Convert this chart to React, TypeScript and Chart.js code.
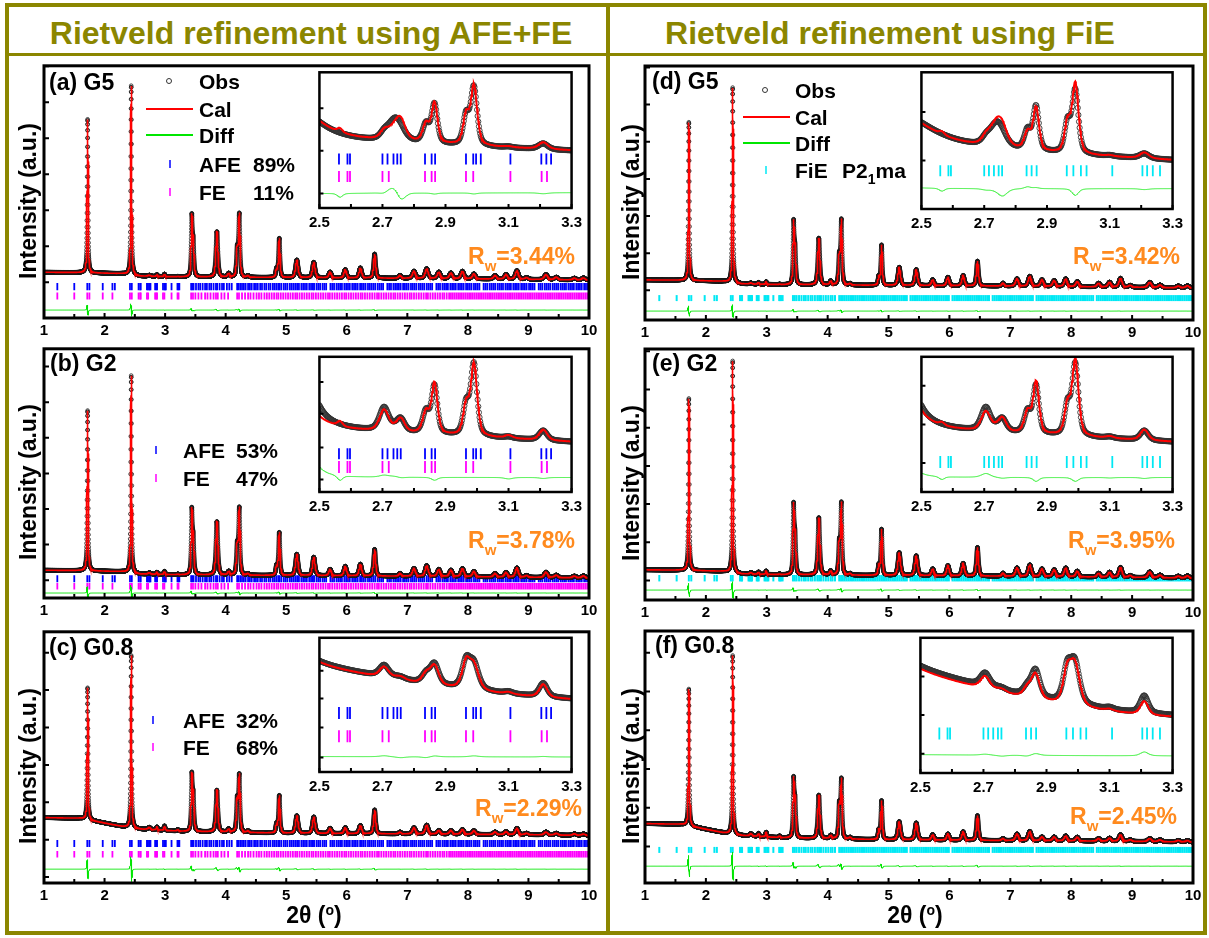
import React, { useEffect, useRef } from 'react';
import { Chart, registerables } from 'chart.js';
Chart.register(...registerables);

// ------------------------------------------------------------------ DATA
const X_TICKS = [1, 2, 3, 4, 5, 6, 7, 8, 9, 10];
const INSET_X_TICKS = [2.5, 2.7, 2.9, 3.1, 3.3];

// main reflections (2theta, deg) with profile widths (FWHM)
const peakPos = [1.72, 2.44, 2.74, 2.865, 2.99, 3.21, 3.44, 3.465, 3.855, 4.05, 4.19, 4.225, 4.37, 4.84, 4.885, 5.175, 5.455, 5.725, 5.975, 6.225, 6.46, 6.88, 7.11, 7.32, 7.52, 7.72, 7.91, 8.10, 8.45, 8.63, 8.81, 8.97, 9.29, 9.46, 9.76, 9.91];
const peakWidth = [0.02, 0.02, 0.05, 0.025, 0.025, 0.03, 0.025, 0.03, 0.04, 0.04, 0.03, 0.03, 0.04, 0.03, 0.03, 0.05, 0.05, 0.05, 0.05, 0.05, 0.04, 0.05, 0.06, 0.06, 0.06, 0.06, 0.06, 0.06, 0.06, 0.06, 0.06, 0.06, 0.07, 0.07, 0.07, 0.07];
const peakH_G5 = [4.26, 5.25, 0.03, 0.05, 0.07, 0.01, 1.57, 0.9, 1.26, 0.1, 0.75, 1.72, 0.04, 0.22, 1.08, 0.49, 0.43, 0.16, 0.23, 0.28, 0.67, 0.08, 0.2, 0.27, 0.18, 0.16, 0.21, 0.14, 0.1, 0.13, 0.24, 0.05, 0.14, 0.07, 0.05, 0.06];
const peakH_G2 = [4.5, 5.54, 0.04, 0.06, 0.09, 0.015, 1.7, 0.95, 1.5, 0.1, 0.8, 1.85, 0.04, 0.25, 1.2, 0.6, 0.52, 0.18, 0.27, 0.33, 0.75, 0.08, 0.22, 0.3, 0.2, 0.18, 0.23, 0.15, 0.1, 0.13, 0.26, 0.05, 0.15, 0.07, 0.05, 0.06];
const peakH_G08 = [3.53, 4.61, 0.06, 0.08, 0.12, 0.04, 1.4, 0.9, 1.12, 0.08, 0.85, 1.5, 0.04, 0.23, 1.0, 0.47, 0.44, 0.14, 0.16, 0.22, 0.64, 0.05, 0.17, 0.24, 0.1, 0.1, 0.13, 0.1, 0.07, 0.08, 0.17, 0.04, 0.08, 0.05, 0.04, 0.04];

// background anchors
const bgX = [1, 1.6, 2.3, 2.6, 3.3, 5, 7, 9, 10];
const bg_G5 = [0.28, 0.27, 0.24, 0.17, 0.15, 0.13, 0.11, 0.08, 0.06];
const bg_G2 = [0.28, 0.27, 0.24, 0.17, 0.15, 0.13, 0.11, 0.08, 0.06];
const bg_G08 = [1.59, 1.57, 1.35, 1.28, 1.22, 1.17, 1.15, 1.13, 1.11];

// reflection markers
const AFE_POS = [1.22, 1.50, 1.715, 1.75, 1.97, 2.13, 2.17, 2.42, 2.45, 2.562, 2.589, 2.597, 2.700, 2.716, 2.735, 2.747, 2.758, 2.835, 2.856, 2.867, 2.965, 2.988, 2.997, 3.012, 3.106, 3.204, 3.220, 3.235,
  3.43, 3.45, 3.47, 3.51, 3.55, 3.58, 3.62, 3.66, 3.69, 3.73, 3.76, 3.80, 3.84, 3.86, 3.90, 3.94, 3.97, 4.02, 4.06, 4.10, 4.19, 4.21, 4.24, 4.27, 4.30, 4.33, 4.37, 4.40, 4.43, 4.47, 4.50,
  4.53, 4.57, 4.60, 4.64, 4.67, 4.71, 4.74, 4.78, 4.81, 4.84, 4.87, 4.89, 4.92, 4.96, 4.99, 5.02, 5.06, 5.09, 5.12, 5.15, 5.18, 5.21, 5.25, 5.28, 5.31, 5.34, 5.38, 5.41, 5.44, 5.46, 5.50, 5.53, 5.56, 5.60, 5.63, 5.66, 5.73, 5.76, 5.79, 5.83, 5.86, 5.89, 5.92, 5.96, 5.99, 6.02, 6.05, 6.09, 6.12, 6.15, 6.18, 6.22, 6.25, 6.28, 6.31, 6.35, 6.38, 6.41, 6.44, 6.47, 6.51, 6.54, 6.57, 6.60, 6.67, 6.70, 6.73, 6.77, 6.80, 6.83, 6.86, 6.89, 6.93, 6.96, 6.99, 7.02, 7.06, 7.09, 7.12, 7.15, 7.19, 7.22, 7.25, 7.28, 7.32, 7.35, 7.38, 7.41, 7.48, 7.51, 7.54, 7.58, 7.61, 7.64, 7.67, 7.71, 7.74, 7.77, 7.80, 7.84, 7.87, 7.90, 7.93, 7.97, 8.00, 8.03, 8.06, 8.10, 8.13, 8.16, 8.19, 8.26, 8.29, 8.32, 8.36, 8.39, 8.42, 8.45, 8.49, 8.52, 8.55, 8.58, 8.62, 8.65, 8.68, 8.71, 8.75, 8.78, 8.81, 8.84, 8.88, 8.91, 8.94, 8.97, 9.01, 9.04, 9.07, 9.10, 9.17, 9.20, 9.23, 9.27, 9.30, 9.33, 9.36, 9.40, 9.43, 9.46, 9.49, 9.53, 9.56, 9.59, 9.62, 9.66, 9.69, 9.72, 9.75, 9.79, 9.82, 9.85, 9.88, 9.92, 9.95, 9.98];
const FE_POS = [1.22, 1.50, 1.715, 1.75, 1.97, 2.13, 2.42, 2.45, 2.562, 2.589, 2.597, 2.700, 2.720, 2.835, 2.856, 2.867, 2.965, 2.988, 3.106, 3.205, 3.222,
  3.43, 3.46, 3.50, 3.55, 3.60, 3.66, 3.70, 3.75, 3.80, 3.84, 3.87, 3.93, 3.98, 4.04, 4.19, 4.22, 4.27, 4.32, 4.37, 4.41, 4.46, 4.51, 4.55, 4.59, 4.64, 4.68, 4.72, 4.76, 4.80, 4.84, 4.87, 4.91, 4.95, 4.99, 5.03, 5.07, 5.11, 5.15, 5.18, 5.22, 5.26, 5.30, 5.34, 5.38, 5.42, 5.45, 5.49, 5.53, 5.57, 5.61, 5.65, 5.69, 5.72, 5.76, 5.80, 5.84, 5.88, 5.92, 5.96, 5.99, 6.03, 6.07, 6.11, 6.15, 6.19, 6.23, 6.26, 6.30, 6.34, 6.38, 6.42, 6.46, 6.50, 6.53, 6.57, 6.61, 6.65, 6.69, 6.73, 6.77, 6.80, 6.84, 6.88, 6.92, 6.96, 7.00, 7.04, 7.07, 7.11, 7.15, 7.19, 7.23, 7.27, 7.31, 7.34, 7.38, 7.42, 7.46, 7.50, 7.54, 7.58, 7.61, 7.65, 7.69, 7.72, 7.75, 7.78, 7.81, 7.84, 7.87, 7.90, 7.93, 7.96, 7.99, 8.02, 8.05, 8.08, 8.11, 8.14, 8.17, 8.20, 8.23, 8.26, 8.29, 8.32, 8.35, 8.38, 8.41, 8.44, 8.47, 8.50, 8.53, 8.56, 8.59, 8.62, 8.65, 8.68, 8.71, 8.74, 8.77, 8.80, 8.83, 8.86, 8.89, 8.92, 8.95, 8.98, 9.01, 9.04, 9.07, 9.10, 9.13, 9.16, 9.19, 9.22, 9.25, 9.28, 9.31, 9.34, 9.37, 9.40, 9.43, 9.46, 9.49, 9.52, 9.55, 9.58, 9.61, 9.64, 9.67, 9.70, 9.73, 9.76, 9.79, 9.82, 9.85, 9.88, 9.91, 9.94, 9.97];
const FIE_POS = [1.235, 1.52, 1.72, 1.76, 1.98, 2.14, 2.18, 2.41, 2.44, 2.560, 2.586, 2.594, 2.700, 2.715, 2.731, 2.746, 2.757, 2.835, 2.851, 2.867, 2.963, 2.984, 3.008, 3.026, 3.108, 3.204, 3.219, 3.237, 3.260,
  3.43, 3.46, 3.49, 3.53, 3.57, 3.61, 3.64, 3.68, 3.72, 3.75, 3.79, 3.83, 3.86, 3.89, 3.93, 3.97, 4.01, 4.05, 4.08, 4.12, 4.19, 4.22, 4.25, 4.28, 4.31, 4.34, 4.37, 4.40, 4.43, 4.46, 4.49,
  4.52, 4.55, 4.58, 4.61, 4.64, 4.67, 4.70, 4.73, 4.76, 4.79, 4.82, 4.85, 4.88, 4.91, 4.94, 4.97, 5.00, 5.03, 5.06, 5.09, 5.12, 5.15, 5.18, 5.21, 5.24, 5.27, 5.30, 5.36, 5.39, 5.42, 5.45, 5.48, 5.51, 5.54, 5.57, 5.60, 5.63, 5.66, 5.69, 5.72, 5.75, 5.78, 5.81, 5.84, 5.87, 5.90, 5.93, 5.96, 5.99, 6.05, 6.08, 6.11, 6.14, 6.17, 6.20, 6.23, 6.26, 6.29, 6.32, 6.35, 6.38, 6.41, 6.44, 6.47, 6.50, 6.53, 6.56, 6.59, 6.62, 6.65, 6.71, 6.74, 6.77, 6.80, 6.83, 6.86, 6.89, 6.92, 6.95, 6.98, 7.01, 7.04, 7.07, 7.10, 7.13, 7.16, 7.19, 7.22, 7.25, 7.28, 7.31, 7.34, 7.37, 7.43, 7.46, 7.49, 7.52, 7.55, 7.58, 7.61, 7.64, 7.67, 7.70, 7.73, 7.76, 7.79, 7.82, 7.85, 7.88, 7.91, 7.94, 7.97, 8.00, 8.03, 8.06, 8.09, 8.12, 8.15, 8.18, 8.21, 8.24, 8.27, 8.30, 8.33, 8.36, 8.42, 8.45, 8.48, 8.51, 8.54, 8.57, 8.60, 8.63, 8.66, 8.69, 8.72, 8.75, 8.78, 8.81, 8.84, 8.87, 8.90, 8.93, 8.96, 8.99, 9.02, 9.05, 9.08, 9.11, 9.14, 9.17, 9.20, 9.23, 9.26, 9.29, 9.32, 9.35, 9.38, 9.41, 9.44, 9.47, 9.50, 9.53, 9.56, 9.59, 9.62, 9.65, 9.68, 9.71, 9.74, 9.77, 9.80, 9.83, 9.86, 9.89, 9.92, 9.95, 9.98];

// inset (2.5-3.3) reflections, heights in inset units
const insetPos = [2.565, 2.705, 2.74, 2.758, 2.838, 2.865, 2.965, 2.99, 3.10, 3.21];
const insetW_G5 = [0.02, 0.03, 0.055, 0.035, 0.025, 0.022, 0.022, 0.024, 0.03, 0.035];
const insetW_G2 = [0.02, 0.035, 0.04, 0.03, 0.025, 0.022, 0.022, 0.024, 0.03, 0.03];
const insetW_G08 = [0.02, 0.035, 0.04, 0.035, 0.03, 0.032, 0.03, 0.036, 0.03, 0.03];

const insetObsH_a = [0, 0.5, 2.3, 0.3, 1.9, 4.0, 2.9, 6.0, 0.1, 0.6];
const insetCalH_a = [0.4, 0.7, 1.4, 1.5, 1.9, 4.1, 2.9, 6.1, 0.1, 0.7];
const insetObsH_b = [0, 2.4, 0.3, 1.2, 2.2, 4.9, 3.0, 7.4, 0.15, 1.0];
const insetCalH_b = [0.5, 2.2, 0.2, 1.3, 2.2, 5.2, 3.0, 7.4, 0.3, 1.1];
const insetObsH_c = [0, 1.2, 0.1, 0.2, 0.9, 2.1, 2.6, 2.6, 0.2, 1.4];
const insetCalH_c = [0, 1.1, 0.1, 0.3, 1.0, 2.0, 2.6, 2.5, 0.2, 1.35];
const insetObsH_d = [0, 0.5, 2.5, 0.3, 2.0, 4.5, 3.0, 6.5, 0.1, 0.5];
const insetCalH_d = [0.3, 0.6, 2.6, 1.0, 1.8, 4.4, 3.0, 7.2, 0.1, 0.6];
const insetObsH_e = [0, 2.4, 0.3, 1.2, 2.2, 4.9, 3.0, 7.4, 0.15, 1.0];
const insetCalH_e = [0.3, 2.0, 0.3, 1.3, 2.2, 5.3, 3.0, 7.8, 0.2, 1.1];
const insetObsH_f = [0, 1.4, 0.1, 0.2, 0.8, 2.8, 3.2, 4.2, 0.2, 1.8];
const insetCalH_f = [0, 1.3, 0.1, 0.3, 0.9, 2.6, 3.2, 4.2, 0.2, 1.4];

// inset backgrounds: quadratic coefficients in (2theta-2.5), and low-angle tail [height, HWHM]
const insetBg_a = [6.9, -1.25, 0], insetBgCal_a = [7.0, -1.35, 0], insetTail_a = [3.1, 0.081];
const insetBg_b = [6.47, -1.6, 0], insetBgCal_b = [6.47, -1.6, 0], insetTail_b = [12.5, 0.03], insetTailCal_b = [3.4, 0.05];
const insetBg_c = [11.1, -6.875, 3.125], insetBgCal_c = [11.0, -6.8, 3.1], insetTail_c = [1.0, 0.05];
const insetBg_d = [6.2, -1.5, 0], insetTail_d = [3.4, 0.12], insetTailCal_d = [3.3, 0.12];
const insetBg_e = [6.47, -1.6, 0], insetTail_e = [12.5, 0.03], insetTailCal_e = [8, 0.035];
const insetBg_f = [10.8, -10.25, 5.31], insetBgCal_f = [10.5, -10.0, 5.2], insetTail_f = [0.73, 0.05];

// ------------------------------------------------------------------ STYLE
const FONT = "'Liberation Sans', Arial, Helvetica, sans-serif";
const OLIVE = '#8b8600';
const ORANGE = '#ff8a1e';
const BLUE = '#0000ff';
const MAGENTA = '#ff00ff';
const CYAN = '#00e8f4';
const RED = '#ff0000';
const GREEN = '#00e600';

const MP = { l: 30, r: 14, t: 3, b: 24 };
const IP = { l: 14, r: 14, t: 3, b: 22 };

// ------------------------------------------------------------------ MODEL
function pv(x: number, x0: number, h: number, w: number) {
  const d = (2 * (x - x0)) / w;
  const d2 = d * d;
  return h * (0.5 * Math.exp(-0.6931 * d2) + 0.5 / (1 + d2));
}
function interp(x: number, xs: number[], ys: number[]) {
  if (x <= xs[0]) return ys[0];
  for (let i = 1; i < xs.length; i++) {
    if (x <= xs[i]) {
      const t = (x - xs[i - 1]) / (xs[i] - xs[i - 1]);
      return ys[i - 1] + t * (ys[i] - ys[i - 1]);
    }
  }
  return ys[ys.length - 1];
}
function mainCurve(x: number, hs: number[], bg: number[], shift: number) {
  let y = interp(x, bgX, bg);
  for (let i = 0; i < peakPos.length; i++) {
    const h = hs[i];
    if (!h) continue;
    y += pv(x, peakPos[i] + shift, h, peakWidth[i]);
  }
  return y;
}
function insetCurve(x: number, bg: number[], tail: number[], hs: number[], ws: number[]) {
  const t = x - 2.5;
  let y = bg[0] + bg[1] * t + bg[2] * t * t;
  const dt = (x - 2.44) / tail[1];
  y += tail[0] / (1 + dt * dt);
  for (let i = 0; i < insetPos.length; i++) if (hs[i]) y += pv(x, insetPos[i], hs[i], ws[i]);
  return y;
}
function grid(a: number, b: number, step: number) {
  const n = Math.round((b - a) / step);
  const out: number[] = [];
  for (let i = 0; i <= n; i++) out.push(a + i * step);
  return out;
}

// ------------------------------------------------------------------ CONFIG
type Row = { pos: number[]; color: string; y: number; r: number; lw: number };

const LEFT = { left: 44, right: 589 };
const RIGHT = { left: 645, right: 1193 };

const panels: any[] = [
  {
    key: 'a', ...LEFT, top: 63, bottom: 318, yMin: -0.99, yMax: 6.01, yTicks: [0, 1, 2, 3, 4, 5, 6],
    hs: peakH_G5, bg: bg_G5, shift: 0.0005, diffY: -0.77,
    rows: [{ pos: AFE_POS, color: BLUE, y: -0.12, r: 3.7, lw: 1.8 }, { pos: FE_POS, color: MAGENTA, y: -0.38, r: 3.4, lw: 1.8 }],
    inset: {
      left: 317, right: 574, top: 68, bottom: 208, yTicks: [10.3, 5.9, 1.5], w: insetW_G5,
      obs: { bg: insetBg_a, tail: insetTail_a, h: insetObsH_a }, cal: { bg: insetBgCal_a, tail: insetTail_a, h: insetCalH_a },
      rows: [{ pos: AFE_POS, color: BLUE, y: 5.05, r: 5.5, lw: 1.8 }, { pos: FE_POS, color: MAGENTA, y: 3.25, r: 5.5, lw: 1.8 }], diffY: 1.6,
    },
  },
  {
    key: 'b', ...LEFT, top: 346, bottom: 598, yMin: -0.5, yMax: 6.5, yTicks: [0, 1, 2, 3, 4, 5, 6],
    hs: peakH_G2, bg: bg_G2, shift: 0.0006, diffY: -0.36,
    rows: [{ pos: AFE_POS, color: BLUE, y: 0.04, r: 3.5, lw: 1.8 }, { pos: FE_POS, color: MAGENTA, y: -0.17, r: 3.2, lw: 1.8 }],
    inset: {
      left: 317, right: 574, top: 352, bottom: 492, yTicks: [11.4, 8.1, 4.6, 1.3], w: insetW_G2,
      obs: { bg: insetBg_b, tail: insetTail_b, h: insetObsH_b }, cal: { bg: insetBgCal_b, tail: insetTailCal_b, h: insetCalH_b },
      rows: [{ pos: AFE_POS, color: BLUE, y: 3.95, r: 5.5, lw: 1.8 }, { pos: FE_POS, color: MAGENTA, y: 2.6, r: 6, lw: 1.8 }], diffY: 1.5,
    },
  },
  {
    key: 'c', ...LEFT, top: 629, bottom: 883, yMin: -0.16, yMax: 6.56, yTicks: [0, 1, 2, 3, 4, 5, 6],
    hs: peakH_G08, bg: bg_G08, shift: 0.0011, diffY: 0.21,
    rows: [{ pos: AFE_POS, color: BLUE, y: 0.9, r: 3.5, lw: 1.8 }, { pos: FE_POS, color: MAGENTA, y: 0.61, r: 3.2, lw: 1.8 }],
    inset: {
      left: 317, right: 574, top: 633, bottom: 772, yTicks: [10.5, 7.6, 4.6, 1.5], w: insetW_G08,
      obs: { bg: insetBg_c, tail: insetTail_c, h: insetObsH_c }, cal: { bg: insetBgCal_c, tail: insetTail_c, h: insetCalH_c },
      rows: [{ pos: AFE_POS, color: BLUE, y: 6.1, r: 6, lw: 1.8 }, { pos: FE_POS, color: MAGENTA, y: 3.7, r: 6, lw: 1.8 }], diffY: 1.5,
    },
  },
  {
    key: 'd', ...RIGHT, top: 63, bottom: 320, yMin: -0.8, yMax: 6.04, yTicks: [0, 1, 2, 3, 4, 5, 6],
    hs: peakH_G5, bg: bg_G5, shift: 0.0005, diffY: -0.56,
    rows: [{ pos: FIE_POS, color: CYAN, y: -0.21, r: 3, lw: 2 }],
    inset: {
      left: 919, right: 1175, top: 68, bottom: 209, yTicks: [10, 5], w: insetW_G5,
      obs: { bg: insetBg_d, tail: insetTail_d, h: insetObsH_d }, cal: { bg: insetBg_d, tail: insetTailCal_d, h: insetCalH_d },
      rows: [{ pos: FIE_POS, color: CYAN, y: 3.95, r: 5.5, lw: 1.8 }], diffY: 2.1,
    },
  },
  {
    key: 'e', ...RIGHT, top: 346, bottom: 600, yMin: -0.51, yMax: 6.06, yTicks: [0, 1, 2, 3, 4, 5, 6],
    hs: peakH_G2, bg: bg_G2, shift: 0.0006, diffY: -0.25,
    rows: [{ pos: FIE_POS, color: CYAN, y: 0.06, r: 3.2, lw: 2 }],
    inset: {
      left: 919, right: 1175, top: 352, bottom: 492, yTicks: [11, 7, 3], w: insetW_G2,
      obs: { bg: insetBg_e, tail: insetTail_e, h: insetObsH_e }, cal: { bg: insetBg_e, tail: insetTailCal_e, h: insetCalH_e },
      rows: [{ pos: FIE_POS, color: CYAN, y: 3.1, r: 6, lw: 1.8 }], diffY: 1.5,
    },
  },
  {
    key: 'f', ...RIGHT, top: 628, bottom: 883, yMin: 0.056, yMax: 6.56, yTicks: [1, 2, 3, 4, 5, 6],
    hs: peakH_G08, bg: bg_G08, shift: 0.0012, diffY: 0.49,
    rows: [{ pos: FIE_POS, color: CYAN, y: 0.91, r: 3, lw: 2 }],
    inset: {
      left: 918, right: 1175, top: 633, bottom: 773, yTicks: [10, 6, 2], w: insetW_G08,
      obs: { bg: insetBg_f, tail: insetTail_f, h: insetObsH_f }, cal: { bg: insetBgCal_f, tail: insetTail_f, h: insetCalH_f },
      rows: [{ pos: FIE_POS, color: CYAN, y: 4.1, r: 6, lw: 1.8 }], diffY: 1.6,
    },
  },
];

// ------------------------------------------------------------------ CHARTS
function framePlugin(o: { xTicks: { v: number; len: number }[]; yTicks: number[]; ylen: number; lw: number; tlw: number; fill: boolean }) {
  return {
    id: 'frame',
    beforeDraw(chart: any) {
      if (!o.fill) return;
      const { ctx, chartArea: a } = chart;
      ctx.save();
      ctx.fillStyle = '#fff';
      ctx.fillRect(a.left, a.top, a.right - a.left, a.bottom - a.top);
      ctx.restore();
    },
    afterDatasetsDraw(chart: any) {
      const { ctx, chartArea: a, scales } = chart;
      ctx.save();
      ctx.strokeStyle = '#000';
      ctx.lineWidth = o.tlw;
      ctx.beginPath();
      for (const t of o.xTicks) {
        const px = scales.x.getPixelForValue(t.v);
        ctx.moveTo(px, a.bottom);
        ctx.lineTo(px, a.bottom - t.len);
      }
      for (const v of o.yTicks) {
        const py = scales.y.getPixelForValue(v);
        ctx.moveTo(a.left, py);
        ctx.lineTo(a.left + o.ylen, py);
      }
      ctx.stroke();
      ctx.lineWidth = o.lw;
      ctx.strokeRect(a.left, a.top, a.right - a.left, a.bottom - a.top);
      ctx.restore();
    },
  };
}

function rowDatasets(rows: Row[], lo: number, hi: number) {
  return rows.map((r) => ({
    data: r.pos.filter((x) => x >= lo && x <= hi).map((x) => ({ x, y: r.y })),
    showLine: false,
    pointStyle: 'line',
    pointRotation: 90,
    pointRadius: r.r,
    pointBorderWidth: r.lw,
    pointBorderColor: r.color,
    pointBackgroundColor: r.color,
    borderColor: r.color,
    backgroundColor: r.color,
    pointHitRadius: 0,
    parsing: false,
  }));
}

function axisOpts(min: number, max: number, ticks: number[] | null, fit: (s: any) => void, labelPad: number, fmt: (v: number) => string) {
  return {
    type: 'linear',
    min,
    max,
    afterBuildTicks: ticks ? (s: any) => { s.ticks = ticks.map((v) => ({ value: v })); } : undefined,
    afterFit: fit,
    grid: { display: false, drawTicks: false },
    border: { display: false },
    ticks: ticks
      ? { display: true, autoSkip: false, maxRotation: 0, padding: labelPad, color: '#000', font: { family: FONT, weight: 'bold', size: 15 }, callback: (v: any) => fmt(Number(v)) }
      : { display: false },
  };
}

function buildMain(canvas: HTMLCanvasElement, p: any) {
  const xs = grid(1, 10, 0.001);
  const obs: any[] = [], cal: any[] = [], diff: any[] = [];
  for (const x of xs) {
    const o = mainCurve(x, p.hs, p.bg, 0);
    const c = mainCurve(x, p.hs, p.bg, p.shift);
    obs.push({ x, y: o });
    cal.push({ x, y: c });
    diff.push({ x, y: o - c + p.diffY });
  }
  const xTicks = grid(1, 10, 0.5).map((v) => ({ v, len: Math.abs(v - Math.round(v)) < 1e-6 ? 5 : 4 }));
  return new Chart(canvas, {
    type: 'scatter',
    data: {
      datasets: [
        { data: cal, showLine: true, borderColor: RED, borderWidth: 1.6, pointRadius: 0, pointHitRadius: 0, parsing: false, normalized: true },
        { data: diff, showLine: true, borderColor: GREEN, borderWidth: 1, pointRadius: 0, pointHitRadius: 0, parsing: false, normalized: true },
        { data: obs, showLine: false, pointRadius: 1.8, pointBorderWidth: 0.8, pointBorderColor: '#1a1a1a', pointBackgroundColor: 'rgba(0,0,0,0)', borderColor: '#1a1a1a', backgroundColor: 'rgba(0,0,0,0)', pointHitRadius: 0, parsing: false, normalized: true },
        ...rowDatasets(p.rows, 1, 10),
      ] as any,
    },
    options: {
      animation: false,
      responsive: false,
      maintainAspectRatio: false,
      events: [],
      layout: { padding: { left: 0, right: MP.r, top: MP.t, bottom: 0 } },
      plugins: { legend: { display: false }, tooltip: { enabled: false } },
      scales: {
        x: axisOpts(1, 10, X_TICKS, (s: any) => { s.height = MP.b; }, 4, (v) => String(Math.round(v))),
        y: axisOpts(p.yMin, p.yMax, null, (s: any) => { s.width = MP.l; }, 0, (v) => ''),
      } as any,
    },
    plugins: [framePlugin({ xTicks, yTicks: p.yTicks, ylen: 5, lw: 3, tlw: 2, fill: false })],
  } as any);
}

function buildInset(canvas: HTMLCanvasElement, p: any) {
  const q = p.inset;
  const xs = grid(2.5, 3.3, 0.002);
  const obs: any[] = [], cal: any[] = [], diff: any[] = [];
  for (const x of xs) {
    const o = insetCurve(x, q.obs.bg, q.obs.tail, q.obs.h, q.w);
    const c = insetCurve(x, q.cal.bg, q.cal.tail, q.cal.h, q.w);
    obs.push({ x, y: o });
    cal.push({ x, y: c });
    diff.push({ x, y: o - c + q.diffY });
  }
  const H = (q.bottom - q.top) / 10;
  const xTicks = grid(2.5, 3.3, 0.1).map((v) => ({ v, len: 4 }));
  return new Chart(canvas, {
    type: 'scatter',
    data: {
      datasets: [
        { data: cal, showLine: true, borderColor: RED, borderWidth: 2, pointRadius: 0, pointHitRadius: 0, parsing: false },
        { data: diff, showLine: true, borderColor: '#33ee33', borderWidth: 1, pointRadius: 0, pointHitRadius: 0, parsing: false },
        { data: obs, showLine: false, pointRadius: 2.6, pointBorderWidth: 0.9, pointBorderColor: '#333', pointBackgroundColor: 'rgba(0,0,0,0)', borderColor: '#333', backgroundColor: 'rgba(0,0,0,0)', pointHitRadius: 0, parsing: false },
        ...rowDatasets(q.rows, 2.5, 3.3),
      ] as any,
    },
    options: {
      animation: false,
      responsive: false,
      maintainAspectRatio: false,
      events: [],
      layout: { padding: { left: 0, right: IP.r, top: IP.t, bottom: 0 } },
      plugins: { legend: { display: false }, tooltip: { enabled: false } },
      scales: {
        x: axisOpts(2.5, 3.3, INSET_X_TICKS, (s: any) => { s.height = IP.b; }, 6, (v) => v.toFixed(1)),
        y: axisOpts(0, H, null, (s: any) => { s.width = IP.l; }, 0, (v) => ''),
      } as any,
    },
    plugins: [framePlugin({ xTicks, yTicks: q.yTicks, ylen: 4, lw: 2.5, tlw: 2, fill: true })],
  } as any);
}

function MainCanvas({ p }: { p: any }) {
  const ref = useRef<HTMLCanvasElement>(null);
  useEffect(() => {
    const c = buildMain(ref.current as HTMLCanvasElement, p);
    return () => c.destroy();
  }, []);
  const w = p.right - p.left + MP.l + MP.r;
  const h = p.bottom - p.top + MP.t + MP.b;
  return <canvas ref={ref} width={w} height={h} style={{ position: 'absolute', left: p.left - MP.l, top: p.top - MP.t, width: w, height: h }} />;
}

function InsetCanvas({ p }: { p: any }) {
  const ref = useRef<HTMLCanvasElement>(null);
  const q = p.inset;
  useEffect(() => {
    const c = buildInset(ref.current as HTMLCanvasElement, p);
    return () => c.destroy();
  }, []);
  const w = q.right - q.left + IP.l + IP.r;
  const h = q.bottom - q.top + IP.t + IP.b;
  return <canvas ref={ref} width={w} height={h} style={{ position: 'absolute', left: q.left - IP.l, top: q.top - IP.t, width: w, height: h }} />;
}

// ------------------------------------------------------------------ TEXT
function T({ x, y, size, color, center, children }: any) {
  return (
    <div
      style={{
        position: 'absolute', left: x, top: y,
        transform: center ? 'translate(-50%,-50%)' : 'translateY(-50%)',
        fontFamily: FONT, fontWeight: 700, fontSize: size, lineHeight: 1,
        color: color || '#000', whiteSpace: 'nowrap',
      }}
    >
      {children}
    </div>
  );
}
function Box({ x, y, w, h, bg, style }: any) {
  return <div style={{ position: 'absolute', left: x, top: y, width: w, height: h, background: bg, ...style }} />;
}
function Circle({ x, y }: any) {
  return <div style={{ position: 'absolute', left: x - 3, top: y - 3, width: 6, height: 6, borderRadius: '50%', border: '1px solid #333', boxSizing: 'border-box' }} />;
}
function Tick({ x, y, color }: any) {
  return <Box x={x} y={Math.round(y) - 4} w={2} h={8} bg={color} style={{ opacity: 0.75 }} />;
}
function Rw({ x, y, val }: any) {
  return (
    <T x={x} y={y} size={23} color={ORANGE}>
      R<span style={{ fontSize: 15, position: 'relative', top: 7 }}>w</span>={val}
    </T>
  );
}
function YTitle({ x, y }: any) {
  return (
    <div style={{ position: 'absolute', left: x, top: y, transform: 'translate(-50%,-50%) rotate(-90deg)', fontFamily: FONT, fontWeight: 700, fontSize: 23, lineHeight: 1, whiteSpace: 'nowrap' }}>
      Intensity (a.u.)
    </div>
  );
}
function XTitle({ x, y }: any) {
  return (
    <T x={x} y={y} size={23} center>
      2θ (<span style={{ fontSize: 14, position: 'relative', top: -8 }}>o</span>)
    </T>
  );
}

const LS = 21; // legend font size
const PS = 23; // panel label size

export default function App() {
  useEffect(() => {
    document.body.style.margin = '0';
  }, []);
  return (
    <div style={{ position: 'absolute', left: 0, top: 0, width: 1209, height: 938, background: '#fff', overflow: 'hidden' }}>
      {/* olive frame */}
      <Box x={5} y={3} w={1202} h={932} style={{ border: `4px solid ${OLIVE}`, boxSizing: 'border-box' }} />
      <Box x={606} y={3} w={4} h={932} bg={OLIVE} />
      <Box x={5} y={53} w={1202} h={3} bg={OLIVE} />
      <T x={311} y={33} size={32} color={OLIVE} center>Rietveld refinement using AFE+FE</T>
      <T x={890} y={33} size={32} color={OLIVE} center>Rietveld refinement using FiE</T>

      {panels.map((p) => <MainCanvas key={'m' + p.key} p={p} />)}
      {panels.map((p) => <InsetCanvas key={'i' + p.key} p={p} />)}

      {panels.map((p) => <YTitle key={'y' + p.key} x={p.left === 44 ? 28 : 631} y={(p.top + p.bottom) / 2 + 10} />)}
      <XTitle x={314} y={915} />
      <XTitle x={915} y={915} />

      {/* panel labels */}
      <T x={49} y={82} size={PS}>(a) G5</T>
      <T x={50} y={363} size={PS}>(b) G2</T>
      <T x={49} y={647} size={PS}>(c) G0.8</T>
      <T x={652} y={81} size={PS}>(d) G5</T>
      <T x={652} y={363} size={PS}>(e) G2</T>
      <T x={655} y={645} size={PS}>(f) G0.8</T>

      {/* legend (a) */}
      <Circle x={169} y={81} />
      <T x={199} y={81} size={LS}>Obs</T>
      <Box x={146} y={108} w={47} h={2} bg={RED} />
      <T x={199} y={109} size={LS}>Cal</T>
      <Box x={146} y={134} w={47} h={2} bg={GREEN} />
      <T x={199} y={135} size={LS}>Diff</T>
      <Tick x={169} y={164} color={BLUE} />
      <T x={199} y={164} size={LS}>AFE</T>
      <T x={253} y={164} size={LS}>89%</T>
      <Tick x={169} y={192} color={MAGENTA} />
      <T x={199} y={192} size={LS}>FE</T>
      <T x={253} y={192} size={LS}>11%</T>

      {/* legend (b) */}
      <Tick x={155} y={450} color={BLUE} />
      <T x={183} y={450} size={LS}>AFE</T>
      <T x={236} y={450} size={LS}>53%</T>
      <Tick x={155} y={478} color={MAGENTA} />
      <T x={183} y={478} size={LS}>FE</T>
      <T x={236} y={478} size={LS}>47%</T>

      {/* legend (c) */}
      <Tick x={152} y={720} color={BLUE} />
      <T x={183} y={720} size={LS}>AFE</T>
      <T x={236} y={720} size={LS}>32%</T>
      <Tick x={152} y={747} color={MAGENTA} />
      <T x={183} y={747} size={LS}>FE</T>
      <T x={236} y={747} size={LS}>68%</T>

      {/* legend (d) */}
      <Circle x={765} y={90} />
      <T x={795} y={90} size={LS}>Obs</T>
      <Box x={743} y={116} w={47} h={2} bg={RED} />
      <T x={795} y={117} size={LS}>Cal</T>
      <Box x={743} y={142} w={47} h={2} bg={GREEN} />
      <T x={795} y={143} size={LS}>Diff</T>
      <Tick x={765} y={170} color={CYAN} />
      <T x={795} y={170} size={LS}>FiE</T>
      <T x={842} y={170} size={LS}>
        P2<span style={{ fontSize: 14, position: 'relative', top: 6 }}>1</span>ma
      </T>

      {/* R factors */}
      <Rw x={468} y={256} val="3.44%" />
      <Rw x={468} y={540} val="3.78%" />
      <Rw x={475} y={808} val="2.29%" />
      <Rw x={1073} y={256} val="3.42%" />
      <Rw x={1068} y={540} val="3.95%" />
      <Rw x={1070} y={816} val="2.45%" />
    </div>
  );
}
